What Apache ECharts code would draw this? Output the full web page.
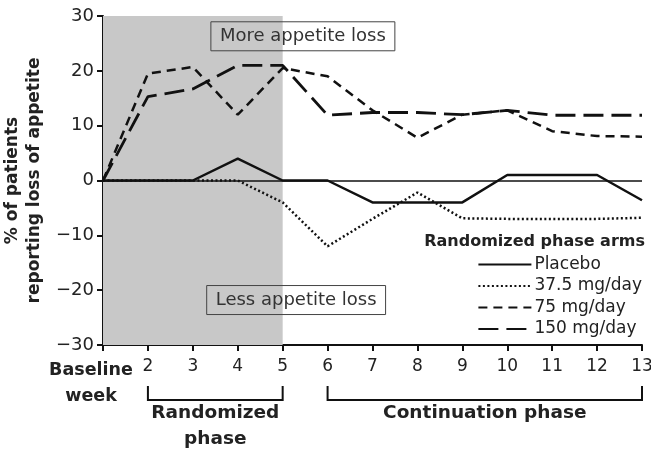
<!DOCTYPE html>
<html>
<head>
<meta charset="utf-8">
<script src="https://cdn.jsdelivr.net/npm/echarts@6/dist/echarts.min.js"></script>
<style>
  html, body { margin: 0; padding: 0; background: #fff; }
  #chart { width: 651px; height: 456px; }
</style>
</head>
<body>
<div id="chart"></div>
<script>
// weeks (1 = baseline)
const weeks = [1, 2, 3, 4, 5, 6, 7, 8, 9, 10, 11, 12, 13]
const placebo = [0, 0, 0, 4, 0, 0, -4, -4, -4, 1, 1, 1, -3.6]
const mg37 = [0, 0, 0, 0, -4, -12, -7, -2.2, -6.9, -7, -7, -7, -6.8]
const mg75 = [0, 19.5, 20.7, 12, 20.5, 19, 12.8, 7.8, 12, 12.8, 9, 8.1, 8]
const mg150 = [0, 15.3, 16.7, 21, 21, 11.9, 12.4, 12.4, 12, 12.8, 11.9, 11.9, 11.9]
const armNames = ['Placebo', '37.5 mg/day', '75 mg/day', '150 mg/day']

const FONT = 'DejaVu Sans'
const chart = echarts.init(document.getElementById('chart'))

const pairs = vals => weeks.map((w, i) => [w, vals[i]])

function lineSeries(name, vals, dash, width) {
  return {
    name: name,
    type: 'line',
    data: pairs(vals),
    symbol: 'none',
    silent: true,
    z: 3,
    itemStyle: {color: '#111'},
    lineStyle: {color: '#111', width: width, type: dash}
  }
}

const series = [
  lineSeries(armNames[0], placebo, 'solid', 2.5),
  lineSeries(armNames[1], mg37, [2, 2.5], 2.5),
  lineSeries(armNames[2], mg75, [9, 6], 2.5),
  lineSeries(armNames[3], mg150, [20, 8], 2.8)
]

// shading, zero line and annotation boxes
series[0].markArea = {
  silent: true,
  itemStyle: {color: '#c8c8c8'},
  data: [[{xAxis: 1, yAxis: 30}, {xAxis: 5, yAxis: -30}]]
}
series[0].markLine = {
  silent: true,
  symbol: 'none',
  label: {show: false},
  lineStyle: {color: '#111', width: 1.5, type: 'solid'},
  data: [{yAxis: 0}]
}
const boxLabel = {
  show: true,
  fontFamily: FONT,
  fontSize: 18,
  color: '#333',
  borderColor: '#444',
  borderWidth: 1,
  padding: [6, 9, 5, 9]
}
series[0].markPoint = {
  silent: true,
  symbol: 'rect',
  symbolSize: 0,
  data: [
    {coord: [5.45, 26.3], label: Object.assign({formatter: 'More appetite loss'}, boxLabel)},
    {coord: [5.3, -21.8], label: Object.assign({formatter: 'Less appetite loss'}, boxLabel)}
  ]
}

chart.setOption({
  animation: false,
  title: {
    text: 'Randomized phase arms',
    right: 1,
    top: 229,
    textStyle: {fontFamily: FONT, fontSize: 16, fontWeight: 'bold', color: '#222'}
  },
  legend: {
    orient: 'vertical',
    right: 4,
    top: 251,
    itemWidth: 53,
    itemHeight: 14,
    itemGap: 4.5,
    selectedMode: false,
    data: armNames,
    itemStyle: {color: 'rgba(0,0,0,0)', borderWidth: 0},
    textStyle: {fontFamily: FONT, fontSize: 17, color: '#222', padding: [0, 0, 0, -2]}
  },
  grid: {left: 103, right: 9, top: 16, bottom: 111, containLabel: false, outerBoundsMode: 'none'},
  xAxis: {
    type: 'value',
    min: 1,
    max: 13,
    interval: 1,
    splitLine: {show: false},
    axisLine: {onZero: false, lineStyle: {color: '#111', width: 2}},
    axisTick: {length: 6, lineStyle: {color: '#111', width: 2}},
    axisLabel: {
      margin: 13,
      fontFamily: FONT,
      fontSize: 17,
      color: '#222',
      formatter: v => (v === 1 ? '' : String(v))
    }
  },
  yAxis: {
    type: 'value',
    min: -30,
    max: 30,
    interval: 10,
    name: '% of patients\nreporting loss of appetite',
    nameLocation: 'middle',
    nameGap: 51,
    nameTextStyle: {fontFamily: FONT, fontSize: 17, fontWeight: 'bold', color: '#222', lineHeight: 22},
    splitLine: {show: false},
    axisLine: {show: true, lineStyle: {color: '#111', width: 2}},
    axisTick: {show: true, length: 6, lineStyle: {color: '#111', width: 2}},
    axisLabel: {
      margin: 9,
      fontFamily: FONT,
      fontSize: 18,
      color: '#222',
      formatter: v => String(v).replace('-', '\u2212')
    }
  },
  series: series
})

// brackets and phase labels below the axis
function drawAnnotations() {
  const bottom = chart.convertToPixel({gridIndex: 0}, [1, -30])[1]
  const px = w => chart.convertToPixel({gridIndex: 0}, [w, -30])[0]
  const y0 = bottom + 41
  const y1 = bottom + 55
  const bracket = (a, b) => ({
    type: 'polyline',
    shape: {points: [[px(a), y0], [px(a), y1], [px(b), y1], [px(b), y0]]},
    style: {stroke: '#111', lineWidth: 2, fill: null}
  })
  const label = (x, y, text, size) => ({
    type: 'text',
    x: x,
    y: y,
    style: {
      text: text,
      fontFamily: FONT,
      fontSize: size,
      fontWeight: 'bold',
      fill: '#222',
      align: 'center',
      verticalAlign: 'middle',
      lineHeight: 26
    }
  })
  chart.setOption({
    graphic: [
      bracket(2, 5),
      bracket(6, 13),
      label((px(2) + px(5)) / 2, bottom + 81, 'Randomized\nphase', 18.5),
      label((px(6) + px(13)) / 2, bottom + 68, 'Continuation phase', 18.5),
      label(px(1) - 12, bottom + 38, 'Baseline\nweek', 17.5)
    ]
  })
}
drawAnnotations()
</script>
</body>
</html>
